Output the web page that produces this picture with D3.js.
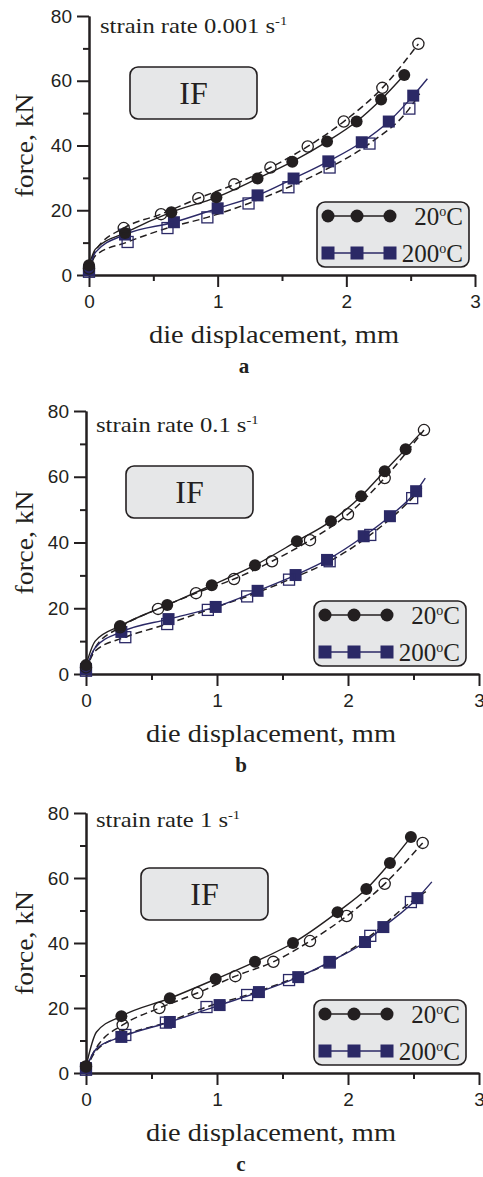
<!DOCTYPE html>
<html>
<head>
<meta charset="utf-8">
<script src="https://cdn.jsdelivr.net/npm/d3@7"></script>
<style>
body { margin: 0; background: #fff; }
svg text { fill: #231f20; }
</style>
</head>
<body>
<script>
var xTicks = [0, 1, 2, 3];
var xMinor = [0.5, 1.5, 2.5];
var yTicks = [0, 20, 40, 60, 80];
var yMinor = [10, 30, 50, 70];
var panelLetters = ["a", "b", "c"];
var strainRates = ["0.001", "0.1", "1"];
var legendTemps = ["20", "200"];

// panel a, strain rate 0.001 1/s   [displacement mm, force kN]
var a20exp  = [[0,3],[0.28,13],[0.64,19.4],[0.99,24],[1.31,29.8],[1.58,35],[1.85,41.2],[2.08,47.4],[2.27,54.2],[2.45,61.8]];
var a20sim  = [[0,2],[0.27,14.5],[0.56,18.8],[0.85,23.7],[1.13,28],[1.41,33.2],[1.70,39.7],[1.98,47.4],[2.28,57.8],[2.56,71.4]];
var a200exp = [[0,1.5],[0.28,12.5],[0.66,16.3],[1.0,20.6],[1.31,24.6],[1.59,29.8],[1.86,35.1],[2.12,41],[2.33,47.4],[2.52,55.4]];
var a200sim = [[0,1],[0.30,10.2],[0.61,14.5],[0.92,17.8],[1.24,22.1],[1.55,27.1],[1.87,33.2],[2.18,40.6],[2.49,51.4]];
// points on the curves that carry no marker (initial knee, tail)
var a20expExtra  = [[0.05,8]];
var a20simExtra  = [[0.05,7.5]];
var a200expExtra = [[0.05,7],[2.63,60.6]];
var a200simExtra = [[0.05,6],[2.57,56]];

// panel b, strain rate 0.1 1/s
var b20exp  = [[0,2.7],[0.26,14.6],[0.62,21],[0.96,27],[1.29,33.1],[1.61,40.4],[1.87,46.5],[2.10,54.1],[2.28,61.7],[2.44,68.4]];
var b20sim  = [[0,2],[0.26,14.2],[0.55,19.8],[0.84,24.6],[1.13,28.9],[1.42,34.3],[1.71,40.7],[2.0,48.6],[2.28,59.6],[2.58,74.2]];
var b200exp = [[0,1.5],[0.27,12.8],[0.63,16.7],[0.99,20.4],[1.31,25.3],[1.60,30.1],[1.84,34.7],[2.12,41.9],[2.32,48],[2.52,55.6]];
var b200sim = [[0,1],[0.30,11.2],[0.62,15.2],[0.93,19.5],[1.23,23.6],[1.55,28.7],[1.86,34.3],[2.17,42.3],[2.49,53.5]];
var b20expExtra  = [[0.07,10],[2.56,73.5]];
var b20simExtra  = [[0.07,8]];
var b200expExtra = [[0.07,8],[2.59,59.6]];
var b200simExtra = [[0.07,7],[2.57,57]];

// panel c, strain rate 1 1/s
var c20exp  = [[0,2],[0.27,17.5],[0.64,23],[0.99,28.9],[1.29,34.2],[1.58,40],[1.92,49.5],[2.14,56.6],[2.32,64.6],[2.48,72.6]];
var c20sim  = [[0,2],[0.28,14.8],[0.56,20],[0.85,24.6],[1.14,29.8],[1.43,34.2],[1.71,40.6],[1.99,48.3],[2.28,58.2],[2.57,70.8]];
var c200exp = [[0,1.5],[0.27,11.1],[0.64,15.7],[1.02,20.9],[1.32,24.9],[1.62,29.5],[1.86,34.2],[2.13,40.3],[2.27,44.9],[2.53,53.8]];
var c200sim = [[0,1],[0.30,11.7],[0.61,15.5],[0.92,20.3],[1.23,24],[1.55,28.6],[1.86,34],[2.17,42.2],[2.48,52.6]];
var c20expExtra  = [[0.08,12.6]];
var c20simExtra  = [[0.1,9]];
var c200expExtra = [[0.08,7.5],[2.64,58.8]];
var c200simExtra = [[0.08,7],[2.6,56]];

var BLACK = "#231f20", NAVY = "#2b2966", BOX = "#e6e7e8";
var SERIF = "'Liberation Serif', 'Times New Roman', serif";
var SANS = "'Liberation Sans', Arial, sans-serif";
var W = 483, H = 1177;

var panels = [
  {x0: 89, x3: 475, y0: 275, y80: 16, ifX: 41, ifY: 51, srX: 11, srY: 17,
   s20e: a20exp, s20s: a20sim, s200e: a200exp, s200s: a200sim,
   e20e: a20expExtra, e20s: a20simExtra, e200e: a200expExtra, e200s: a200simExtra},
  {x0: 86, x3: 479, y0: 674, y80: 411, ifX: 40, ifY: 55, srX: 10, srY: 21,
   s20e: b20exp, s20s: b20sim, s200e: b200exp, s200s: b200sim,
   e20e: b20expExtra, e20s: b20simExtra, e200e: b200expExtra, e200s: b200simExtra},
  {x0: 86, x3: 479, y0: 1073, y80: 813, ifX: 55, ifY: 55, srX: 10, srY: 14,
   s20e: c20exp, s20s: c20sim, s200e: c200exp, s200s: c200sim,
   e20e: c20expExtra, e20s: c20simExtra, e200e: c200expExtra, e200s: c200simExtra}
];

var svg = d3.select("body").append("svg")
  .attr("width", W)
  .attr("height", H)
  .style("display", "block");

function merged(a, b) {
  return a.concat(b).sort(function(p, q) { return p[0] - q[0]; });
}

panels.forEach(function(p, i) {
  var x = d3.scaleLinear().domain([0, 3]).range([p.x0, p.x3]);
  var y = d3.scaleLinear().domain([0, 80]).range([p.y0, p.y80]);
  var g = svg.append("g");

  // axes
  g.append("g").attr("transform", "translate(" + p.x0 + ",0)")
    .call(d3.axisLeft(y).tickValues(yTicks).tickFormat(d3.format("d"))
      .tickSize(12).tickSizeOuter(0).tickPadding(5));
  g.append("g").attr("transform", "translate(" + p.x0 + ",0)")
    .call(d3.axisLeft(y).tickValues(yMinor).tickSize(6).tickSizeOuter(0).tickFormat(""));
  var xAxis = g.append("g").attr("transform", "translate(0," + p.y0 + ")")
    .call(d3.axisBottom(x).tickValues(xTicks).tickFormat(d3.format("d"))
      .tickSize(12).tickSizeOuter(0).tickPadding(4));
  g.append("g").attr("transform", "translate(0," + p.y0 + ")")
    .call(d3.axisBottom(x).tickValues(xMinor).tickSize(6).tickSizeOuter(0).tickFormat(""));
  g.selectAll(".domain, .tick line").attr("stroke", BLACK).attr("stroke-width", 2);
  g.selectAll(".tick text").attr("font-family", SANS)
    .attr("font-size", 19).attr("fill", BLACK);
  xAxis.selectAll(".tick text").attr("dy", "0.9em");

  // titles
  g.append("text")
    .attr("x", p.x0 + 185).attr("y", p.y0 + 68)
    .attr("text-anchor", "middle")
    .attr("font-family", SERIF)
    .attr("font-size", 26)
    .attr("textLength", 250).attr("lengthAdjust", "spacingAndGlyphs")
    .text("die displacement, mm");
  g.append("text")
    .attr("transform", "translate(33," + ((p.y0 + p.y80) / 2) + ") rotate(-90)")
    .attr("text-anchor", "middle")
    .attr("font-family", SERIF)
    .attr("font-size", 26)
    .attr("textLength", 104).attr("lengthAdjust", "spacingAndGlyphs")
    .text("force, kN");
  g.append("text")
    .attr("x", p.x0 + 155).attr("y", p.y0 + 98)
    .attr("text-anchor", "middle")
    .attr("font-family", SERIF)
    .attr("font-weight", "bold")
    .attr("font-size", 21)
    .text(panelLetters[i]);

  // strain rate label (reference glyphs are slightly wide)
  var sr = g.append("text")
    .attr("transform", "translate(" + (p.x0 + p.srX) + "," + (p.y80 + p.srY) + ") scale(1.12,1)")
    .attr("font-family", SERIF)
    .attr("font-size", 22);
  sr.append("tspan").text("strain rate " + strainRates[i] + " s");
  sr.append("tspan").attr("dy", -8).attr("font-size", 13).text("-1");

  // IF box
  g.append("rect")
    .attr("x", p.x0 + p.ifX).attr("y", p.y80 + p.ifY)
    .attr("width", 127).attr("height", 52).attr("rx", 8)
    .attr("fill", BOX).attr("stroke", BLACK).attr("stroke-width", 1.6);
  g.append("text")
    .attr("x", p.x0 + p.ifX + 63.5).attr("y", p.y80 + p.ifY + 37)
    .attr("text-anchor", "middle")
    .attr("font-family", SERIF)
    .attr("font-size", 32)
    .text("IF");

  // curves
  var line = d3.line()
    .x(function(d) { return x(d[0]); })
    .y(function(d) { return y(d[1]); })
    .curve(d3.curveMonotoneX);

  var curves = [
    {data: merged(p.s20s, p.e20s), color: BLACK, dash: "7,4", w: 1.5},
    {data: merged(p.s200s, p.e200s), color: BLACK, dash: "7,4", w: 1.5},
    {data: merged(p.s20e, p.e20e), color: BLACK, dash: null, w: 1.4},
    {data: merged(p.s200e, p.e200e), color: NAVY, dash: null, w: 1.4}
  ];
  curves.forEach(function(c) {
    g.append("path")
      .attr("d", line(c.data))
      .attr("fill", "none")
      .attr("stroke", c.color)
      .attr("stroke-width", c.w)
      .attr("stroke-dasharray", c.dash);
  });

  // markers
  g.selectAll(".sq-fill").data(p.s200e).enter().append("rect")
    .attr("x", function(d) { return x(d[0]) - 6; })
    .attr("y", function(d) { return y(d[1]) - 6; })
    .attr("width", 12).attr("height", 12)
    .attr("fill", NAVY);
  g.selectAll(".sq-open").data(p.s200s).enter().append("rect")
    .attr("x", function(d) { return x(d[0]) - 5.5; })
    .attr("y", function(d) { return y(d[1]) - 5.5; })
    .attr("width", 11).attr("height", 11)
    .attr("fill", "none").attr("stroke", NAVY).attr("stroke-width", 1.3);
  g.selectAll(".ci-fill").data(p.s20e).enter().append("circle")
    .attr("cx", function(d) { return x(d[0]); })
    .attr("cy", function(d) { return y(d[1]); })
    .attr("r", 6).attr("fill", BLACK);
  g.selectAll(".ci-open").data(p.s20s).enter().append("circle")
    .attr("cx", function(d) { return x(d[0]); })
    .attr("cy", function(d) { return y(d[1]); })
    .attr("r", 5.6).attr("fill", "none").attr("stroke", BLACK).attr("stroke-width", 1.3);

  // legend
  var lx = p.x0 + 228, ly = p.y0 - 73;
  var lg = g.append("g").attr("transform", "translate(" + lx + "," + ly + ")");
  lg.append("rect")
    .attr("width", 152).attr("height", 65).attr("rx", 8)
    .attr("fill", BOX).attr("stroke", BLACK).attr("stroke-width", 1.6);
  legendTemps.forEach(function(t, k) {
    var ry = k === 0 ? 14 : 51;
    var col = k === 0 ? BLACK : NAVY;
    lg.append("line").attr("x1", 11).attr("x2", 73).attr("y1", ry).attr("y2", ry)
      .attr("stroke", col).attr("stroke-width", 1.4);
    [11, 40, 73].forEach(function(mx) {
      if (k === 0) {
        lg.append("circle").attr("cx", mx).attr("cy", ry).attr("r", 6.5).attr("fill", col);
      } else {
        lg.append("rect").attr("x", mx - 6.5).attr("y", ry - 6.5)
          .attr("width", 13).attr("height", 13).attr("fill", col);
      }
    });
    var tx = lg.append("text")
      .attr("x", 146).attr("y", ry + 9)
      .attr("text-anchor", "end")
      .attr("font-family", SERIF)
      .attr("font-size", 25);
    tx.append("tspan").text(t);
    tx.append("tspan").attr("dy", -9).attr("font-size", 14).text("o");
    tx.append("tspan").attr("dy", 9).text("C");
  });
});
</script>
</body>
</html>
